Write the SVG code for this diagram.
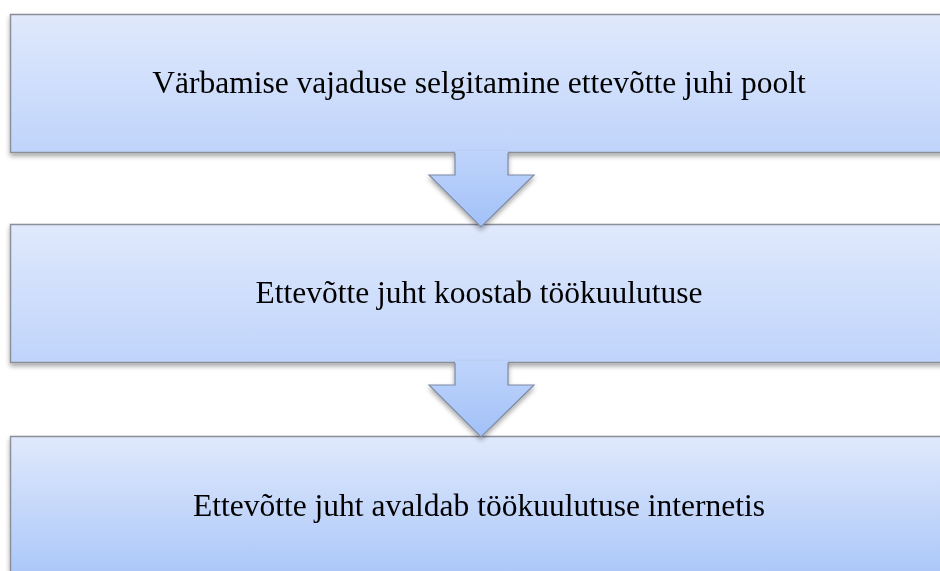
<svg xmlns="http://www.w3.org/2000/svg" width="940" height="571" viewBox="0 0 940 571">
  <defs>
    <linearGradient id="boxFill" x1="0" y1="0" x2="0" y2="1">
      <stop offset="0" stop-color="#e0e9fc"/>
      <stop offset="1" stop-color="#bfd4fb"/>
    </linearGradient>
    <linearGradient id="boxFillLast" x1="0" y1="0" x2="0" y2="1">
      <stop offset="0" stop-color="#e0e9fc"/>
      <stop offset="1" stop-color="#a3c2f8"/>
    </linearGradient>
    <linearGradient id="arrowFill" x1="0" y1="0" x2="0" y2="1">
      <stop offset="0" stop-color="#bfd4fb"/>
      <stop offset="1" stop-color="#a2c1f8"/>
    </linearGradient>
    <filter id="shadow" x="-5%" y="-10%" width="110%" height="130%">
      <feGaussianBlur in="SourceAlpha" stdDeviation="2.5"/>
      <feOffset dx="0" dy="3" result="blur"/>
      <feComponentTransfer><feFuncA type="linear" slope="0.35"/></feComponentTransfer>
      <feMerge><feMergeNode/><feMergeNode in="SourceGraphic"/></feMerge>
    </filter>
  </defs>
  <style>
    .box { stroke: #8a8f99; stroke-width: 1.5; }
    .arrow-body { fill: url(#arrowFill); stroke: none; }
    .arrow-edge { fill: none; stroke: #7d8aa3; stroke-width: 1.2; stroke-linejoin: miter; }
    .label { font-family: "Liberation Serif", "Times New Roman", serif; font-size: 31.5px; fill: #000; text-anchor: middle; }
  </style>

  <rect width="940" height="571" fill="#ffffff"/>

  <g id="step1" filter="url(#shadow)">
    <rect class="box" x="10.5" y="14.5" width="940" height="138" fill="url(#boxFill)"/>
    <text class="label" x="479" y="93">Värbamise vajaduse selgitamine ettevõtte juhi poolt</text>
  </g>

  <g id="step2" filter="url(#shadow)">
    <rect class="box" x="10.5" y="224.5" width="940" height="138" fill="url(#boxFill)"/>
    <text class="label" x="479" y="303">Ettevõtte juht koostab töökuulutuse</text>
  </g>

  <g id="step3" filter="url(#shadow)">
    <rect class="box" x="10.5" y="436.5" width="940" height="160" fill="url(#boxFillLast)"/>
    <text class="label" x="479" y="516">Ettevõtte juht avaldab töökuulutuse internetis</text>
  </g>

  <!-- down arrows; the stem blends into the box above it -->
  <g id="connectors">
    <g filter="url(#shadow)">
      <path class="arrow-body" d="M455,151 L508,151 L508,175 L534,175 L481,227 L429,175 L455,175 Z"/>
      <path class="arrow-edge" d="M455,153 L455,175 L429,175 L481,227 L534,175 L508,175 L508,153"/>
    </g>
    <g filter="url(#shadow)">
      <path class="arrow-body" d="M455,361 L508,361 L508,385 L534,385 L481,437 L429,385 L455,385 Z"/>
      <path class="arrow-edge" d="M455,363 L455,385 L429,385 L481,437 L534,385 L508,385 L508,363"/>
    </g>
  </g>
</svg>
